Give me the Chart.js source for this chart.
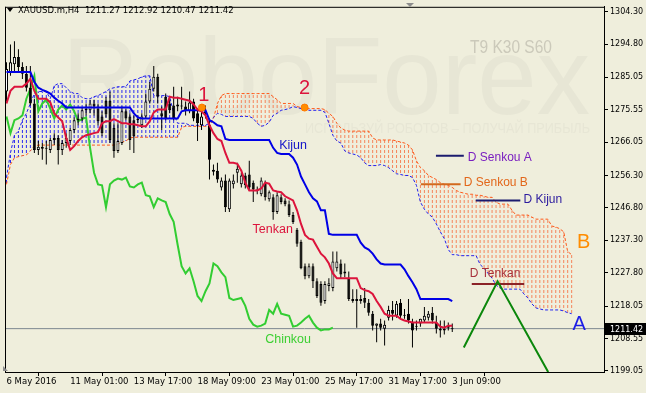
<!DOCTYPE html>
<html>
<head>
<meta charset="utf-8">
<script src="https://cdn.jsdelivr.net/npm/chart.js@4.4.1/dist/chart.umd.min.js"></script>
<style>
  html, body { margin: 0; padding: 0; background: #efeedc; }
</style>
</head>
<body>
<canvas id="chart" width="646" height="393"></canvas>
<script>
// ---- data (XAUUSD.m, H4) ----
const symbol = 'XAUUSD.m,H4'

const candleOpen = [
  1280.9, 1286.6, 1288.9, 1291.0, 1288.1, 1286.1, 1282.0, 1277.4, 1263.8, 1264.7,
  1264.1, 1263.8, 1266.7, 1267.3, 1263.8, 1265.8, 1266.4, 1269.6, 1272.5, 1273.0,
  1275.4, 1275.4, 1277.4, 1275.9, 1273.6, 1278.2, 1278.2, 1270.2, 1263.5, 1265.8,
  1275.1, 1273.6, 1272.5, 1272.5, 1271.0, 1273.6, 1278.0, 1281.7, 1285.2, 1274.5,
  1279.4, 1277.4, 1276.8, 1277.1, 1276.8, 1276.5, 1275.1, 1278.0, 1274.5, 1271.0,
  1275.1, 1271.0, 1258.0, 1257.7, 1252.8, 1254.8, 1246.4, 1253.7, 1257.1, 1253.7,
  1256.3, 1256.6, 1254.2, 1252.2, 1250.8, 1254.2, 1249.3, 1249.9, 1245.6, 1249.9,
  1249.0, 1247.9, 1244.7, 1240.4, 1236.9, 1229.7, 1226.8, 1229.7, 1225.3, 1224.5,
  1219.5, 1223.9, 1223.3, 1229.1, 1230.5, 1228.2, 1226.2, 1220.1, 1219.5, 1219.5,
  1220.4, 1219.0, 1215.8, 1212.3, 1212.9, 1211.4, 1214.6, 1216.9, 1215.2, 1219.0,
  1215.5, 1215.8, 1213.2, 1212.3, 1212.9, 1213.8, 1214.6, 1216.1, 1213.2, 1211.4,
  1211.4, 1211.7, 1211.27
]
const candleHigh = [
  1289.5, 1294.7, 1295.6, 1293.3, 1289.5, 1288.4, 1288.4, 1278.8, 1266.4, 1265.8,
  1266.4, 1267.3, 1268.7, 1268.1, 1266.7, 1268.7, 1270.2, 1273.3, 1274.5, 1276.2,
  1277.4, 1278.5, 1278.5, 1277.4, 1275.1, 1279.4, 1280.9, 1271.6, 1271.6, 1276.5,
  1275.9, 1274.5, 1273.9, 1273.9, 1274.5, 1280.3, 1283.7, 1288.4, 1286.1, 1276.5,
  1280.3, 1278.8, 1282.3, 1279.4, 1282.3, 1278.0, 1280.9, 1278.8, 1275.9, 1275.1,
  1276.8, 1273.0, 1259.5, 1260.0, 1255.7, 1256.6, 1255.4, 1256.6, 1260.0, 1257.1,
  1257.1, 1260.6, 1254.8, 1253.1, 1255.7, 1254.8, 1251.9, 1250.8, 1251.4, 1250.8,
  1249.6, 1249.0, 1245.6, 1240.9, 1237.5, 1230.5, 1230.5, 1230.5, 1226.2, 1225.3,
  1225.3, 1226.2, 1234.0, 1234.0, 1231.7, 1230.5, 1228.2, 1223.0, 1223.0, 1221.3,
  1223.3, 1220.1, 1216.6, 1212.9, 1214.3, 1213.8, 1218.1, 1219.5, 1219.5, 1220.1,
  1217.2, 1220.1, 1214.3, 1213.8, 1214.3, 1217.8, 1216.6, 1217.8, 1215.2, 1213.8,
  1213.8, 1213.2, 1212.92
]
const candleLow = [
  1278.0, 1285.5, 1286.9, 1286.6, 1284.6, 1280.9, 1276.8, 1262.9, 1262.3, 1260.9,
  1259.5, 1262.9, 1265.2, 1259.5, 1262.3, 1264.4, 1265.2, 1268.7, 1271.0, 1272.2,
  1273.9, 1274.5, 1273.9, 1271.0, 1267.8, 1273.3, 1265.8, 1261.5, 1262.9, 1265.2,
  1272.5, 1263.8, 1262.9, 1271.6, 1270.2, 1273.0, 1277.4, 1280.9, 1277.4, 1269.6,
  1272.5, 1274.5, 1272.5, 1275.1, 1275.6, 1273.9, 1274.5, 1272.2, 1266.4, 1269.6,
  1273.0, 1255.1, 1256.3, 1254.2, 1251.9, 1245.6, 1245.6, 1252.5, 1254.2, 1252.8,
  1252.5, 1251.9, 1248.5, 1250.8, 1250.2, 1249.0, 1248.7, 1243.3, 1245.0, 1247.9,
  1247.3, 1244.1, 1242.1, 1235.4, 1228.8, 1225.9, 1226.2, 1223.3, 1220.4, 1218.1,
  1218.7, 1222.4, 1222.4, 1228.2, 1226.2, 1226.5, 1219.5, 1219.0, 1211.7, 1218.7,
  1217.5, 1215.2, 1210.9, 1207.4, 1210.9, 1206.5, 1213.8, 1213.8, 1214.6, 1214.3,
  1214.3, 1212.9, 1205.9, 1210.9, 1212.0, 1213.2, 1213.8, 1212.9, 1210.0, 1208.8,
  1209.7, 1210.9, 1210.47
]
const candleClose = [
  1287.5, 1289.5, 1291.0, 1288.1, 1286.1, 1282.0, 1277.4, 1263.8, 1264.7, 1264.1,
  1264.4, 1266.7, 1267.3, 1263.8, 1265.8, 1267.3, 1269.6, 1272.5, 1273.0, 1275.4,
  1275.9, 1277.4, 1276.5, 1272.2, 1268.7, 1274.2, 1266.7, 1263.5, 1266.4, 1275.1,
  1273.0, 1266.7, 1267.8, 1273.0, 1273.6, 1278.0, 1281.7, 1285.2, 1279.4, 1273.6,
  1273.0, 1275.4, 1273.0, 1276.5, 1276.5, 1275.1, 1277.7, 1273.0, 1271.6, 1273.6,
  1274.5, 1260.9, 1257.4, 1255.1, 1254.8, 1247.0, 1254.8, 1254.8, 1258.3, 1256.3,
  1253.4, 1252.8, 1252.2, 1251.9, 1254.8, 1249.9, 1251.4, 1245.6, 1250.5, 1248.5,
  1247.9, 1244.7, 1242.7, 1236.3, 1229.1, 1226.8, 1229.7, 1225.3, 1221.0, 1219.0,
  1224.5, 1224.7, 1231.1, 1231.1, 1227.3, 1227.6, 1220.1, 1219.5, 1220.1, 1220.1,
  1219.0, 1216.1, 1212.3, 1212.9, 1211.7, 1212.6, 1216.9, 1215.8, 1218.7, 1215.2,
  1215.2, 1213.8, 1210.9, 1212.0, 1214.3, 1215.2, 1215.8, 1213.8, 1211.4, 1210.9,
  1210.9, 1212.3, 1211.42
]

// Ichimoku (9 / 30 / 60)
const tenkan = [
  1277.4, 1281.1, 1282.3, 1282.3, 1282.3, 1283.2, 1284.6, 1281.1, 1278.8, 1278.8,
  1278.8, 1277.7, 1274.5, 1273.3, 1272.2, 1267.3, 1263.8, 1264.9, 1266.4, 1267.5,
  1268.1, 1268.4, 1268.7, 1269.0, 1271.6, 1272.2, 1272.2, 1272.8, 1272.2, 1271.6,
  1271.6, 1271.3, 1271.3, 1271.0, 1270.7, 1270.7, 1272.2, 1274.8, 1275.6, 1275.6,
  1275.6, 1279.4, 1279.1, 1279.1, 1278.8, 1278.5, 1278.2, 1277.1, 1275.6, 1275.1,
  1273.9, 1271.0, 1268.7, 1267.0, 1266.4, 1262.9, 1260.0, 1260.0, 1259.7, 1257.7,
  1254.2, 1251.9, 1251.9, 1251.9, 1252.5, 1254.2, 1253.9, 1251.9, 1251.6, 1251.4,
  1250.2, 1249.6, 1249.0, 1246.1, 1242.1, 1238.9, 1237.8, 1237.5, 1235.4, 1233.4,
  1232.3, 1230.5, 1227.6, 1226.2, 1226.2, 1226.2, 1226.2, 1226.2, 1226.2, 1223.3,
  1222.7, 1222.4, 1221.6, 1219.5, 1217.8, 1215.8, 1215.2, 1215.2, 1215.2, 1214.3,
  1213.8, 1213.5, 1213.2, 1213.2, 1213.2, 1213.2, 1213.2, 1213.2, 1213.2, 1212.0,
  1211.7, 1212.3, 1212.3
]
const kijun = [
  1286.6, 1286.6, 1286.6, 1286.6, 1286.6, 1286.6, 1286.6, 1283.7, 1282.0, 1281.4,
  1280.9, 1280.3, 1279.1, 1278.2, 1277.4, 1276.2, 1276.2, 1276.2, 1276.2, 1276.2,
  1276.2, 1276.2, 1276.2, 1276.2, 1276.2, 1276.2, 1276.2, 1276.2, 1276.2, 1276.2,
  1276.2, 1276.2, 1274.5, 1273.3, 1273.0, 1273.0, 1273.0, 1273.0, 1273.0, 1273.0,
  1273.0, 1273.0, 1273.0, 1273.0, 1275.1, 1275.4, 1275.4, 1275.4, 1275.4, 1275.4,
  1275.4, 1272.5, 1271.9, 1271.0, 1270.7, 1267.0, 1266.7, 1266.7, 1266.7, 1266.7,
  1266.7, 1266.7, 1266.7, 1266.7, 1266.7, 1266.7, 1266.7, 1264.4, 1262.9, 1262.6,
  1262.6, 1262.6, 1261.5, 1259.5, 1256.0, 1253.7, 1251.4, 1249.6, 1248.7, 1246.1,
  1246.1, 1239.2, 1238.9, 1238.9, 1238.9, 1238.9, 1238.9, 1238.9, 1238.9, 1236.6,
  1235.2, 1234.6, 1233.4, 1231.7, 1230.5, 1230.2, 1230.2, 1230.2, 1230.2, 1230.2,
  1228.8, 1226.8, 1225.0, 1223.0, 1220.1, 1220.1, 1220.1, 1220.1, 1220.1, 1220.1,
  1220.1, 1220.1, 1219.5
]
const chinkou = [
  1273.6, 1268.7, 1272.5, 1273.0, 1273.9, 1278.8, 1281.7, 1285.5, 1275.1, 1277.4,
  1278.5, 1275.9, 1273.0, 1275.6, 1276.8, 1275.6, 1277.1, 1275.1, 1272.2, 1272.8,
  1273.3, 1264.4, 1257.1, 1253.7, 1253.4, 1247.0, 1253.7, 1254.8, 1255.4, 1255.1,
  1255.7, 1253.1, 1252.8, 1253.7, 1254.2, 1250.5, 1250.2, 1247.0, 1249.6, 1249.0,
  1248.5, 1245.0, 1242.7, 1236.0, 1229.7, 1227.6, 1229.1, 1225.3, 1221.0, 1219.5,
  1222.4, 1224.7, 1230.5, 1229.7, 1227.9, 1226.5, 1220.4, 1219.8, 1220.1, 1220.4,
  1218.1, 1214.3, 1212.6, 1212.0, 1212.3, 1212.9, 1216.9, 1215.8, 1218.7, 1215.8,
  1215.5, 1215.2, 1212.0, 1212.3, 1213.2, 1214.3, 1215.2, 1213.2, 1211.7, 1210.9,
  1211.2, 1211.2, 1211.7
]
const senkouA = [
  1255.7, 1262.9, 1268.1, 1269.3, 1272.5, 1274.5, 1277.4, 1280.3, 1280.9, 1280.9,
  1280.9, 1278.8, 1282.6, 1283.2, 1283.2, 1282.0, 1280.9, 1280.3, 1280.3, 1279.1,
  1278.8, 1278.8, 1279.4, 1279.7, 1280.3, 1280.9, 1281.7, 1282.0, 1282.3, 1282.3,
  1282.3, 1284.0, 1284.3, 1284.6, 1285.2, 1285.5, 1285.5, 1279.7, 1279.7, 1279.7,
  1279.7, 1279.4, 1274.5, 1271.6, 1271.6, 1271.6, 1271.0, 1271.0, 1271.0, 1271.0,
  1271.0, 1271.6, 1273.3, 1274.5, 1274.2, 1273.6, 1273.6, 1273.6, 1273.6, 1273.6,
  1273.6, 1273.6, 1273.0, 1271.6, 1270.7, 1271.0, 1271.9, 1273.9, 1274.5, 1275.4,
  1275.6, 1275.9, 1276.5, 1276.2, 1275.9, 1275.9, 1275.4, 1275.4, 1275.4, 1275.4,
  1274.8, 1271.6, 1268.1, 1266.4, 1265.8, 1263.5, 1262.9, 1262.6, 1262.3, 1261.5,
  1260.0, 1259.2, 1259.2, 1259.2, 1259.5, 1259.2, 1258.6, 1257.7, 1256.8, 1256.6,
  1256.3, 1256.3, 1255.7, 1253.4, 1248.5, 1246.4, 1245.0, 1244.1, 1242.1, 1239.8,
  1237.8, 1234.6, 1233.1, 1233.1, 1232.8, 1232.8, 1232.8, 1232.8, 1232.8, 1230.2,
  1229.1, 1227.6, 1226.2, 1224.2, 1223.3, 1223.0, 1223.0, 1223.0, 1223.0, 1223.0,
  1221.6, 1220.4, 1218.7, 1217.5, 1217.2, 1216.9, 1216.9, 1216.9, 1216.9, 1216.9,
  1216.6, 1216.1, 1215.8
]
const senkouB = [
  1253.7, 1259.5, 1261.5, 1261.8, 1262.1, 1262.3, 1263.5, 1264.9, 1265.2, 1265.2,
  1265.2, 1265.2, 1265.2, 1265.2, 1265.2, 1265.2, 1265.2, 1265.2, 1265.2, 1265.2,
  1265.2, 1265.2, 1265.2, 1265.2, 1265.2, 1265.2, 1265.2, 1265.2, 1265.5, 1266.1,
  1266.4, 1267.3, 1267.5, 1267.5, 1267.5, 1267.5, 1267.5, 1267.5, 1267.5, 1267.5,
  1267.5, 1267.5, 1267.5, 1267.5, 1270.4, 1270.7, 1270.7, 1270.7, 1270.7, 1270.7,
  1270.7, 1270.7, 1273.0, 1277.4, 1279.7, 1280.3, 1280.3, 1280.3, 1280.3, 1280.3,
  1280.3, 1280.3, 1280.3, 1280.3, 1280.3, 1280.3, 1280.3, 1279.4, 1278.5, 1277.4,
  1277.4, 1277.4, 1277.4, 1276.5, 1276.2, 1275.9, 1275.9, 1275.9, 1275.9, 1275.9,
  1275.6, 1274.5, 1273.6, 1271.6, 1270.2, 1269.6, 1269.3, 1269.3, 1269.3, 1269.3,
  1269.3, 1269.3, 1267.3, 1266.7, 1266.7, 1266.7, 1266.7, 1266.7, 1266.4, 1266.1,
  1265.8, 1265.2, 1263.8, 1260.6, 1258.6, 1257.7, 1256.3, 1255.7, 1255.1, 1254.2,
  1253.7, 1253.4, 1252.8, 1251.9, 1251.4, 1251.1, 1250.8, 1250.8, 1250.5, 1250.5,
  1250.2, 1249.9, 1249.9, 1248.5, 1247.9, 1247.9, 1247.9, 1246.1, 1244.7, 1244.7,
  1244.7, 1244.7, 1244.1, 1243.5, 1243.5, 1243.5, 1243.5, 1241.5, 1241.2, 1240.7,
  1239.8, 1234.0, 1233.1
]

// daily levels drawn as short segments (bar from, bar to, price)
const dLevelNames = ['D Senkou A', 'D Senkou B', 'D Kijun', 'D Tenkan']
const dLevelFrom = [107.9, 104.1, 117.9, 116.9]
const dLevelTo = [114.9, 114.1, 129.1, 130.1]
const dLevelPrice = [1262.1, 1253.7, 1249.0, 1224.5]

// forecast zigzag
const forecastBar = [114.9, 123.4, 136.1]
const forecastPrice = [1205.9, 1225.3, 1198.7]

// marked signal points "1" and "2"
const signalBar = [49.1, 74.9]
const signalPrice = [1276.2, 1276.2]

// axes
const priceTicks = [1304.30, 1294.80, 1285.05, 1275.55, 1266.05, 1256.30, 1246.80, 1237.30, 1227.80, 1218.05, 1208.55, 1199.05]
const timeTickBars = [0, 16, 32, 48, 64, 80, 96, 112]
const timeTickLabels = ['6 May 2016', '11 May 01:00', '13 May 17:00', '18 May 09:00', '23 May 01:00', '25 May 17:00', '31 May 17:00', '3 Jun 09:00']

// ---- build ----
const canvas = document.getElementById('chart')
const ctx0 = canvas.getContext('2d')
const last = candleClose.length - 1
const lastClose = candleClose[last]

// dotted vertical hatch used by the cloud (3px on, 2px off)
function hatch(color) {
  const c = document.createElement('canvas')
  c.width = 1
  c.height = 5
  const g = c.getContext('2d')
  g.fillStyle = color
  g.fillRect(0, 0, 1, 3)
  return ctx0.createPattern(c, 'repeat')
}
const blueHatch = hatch('#2a2af0')
const orangeHatch = hatch('#f5845a')

const pts = (arr) => arr.map((v, i) => ({ x: i, y: v }))

const cloudData = senkouA.map((a, i) => ({ x: i, y: [a, senkouB[i]] }))
const cloudColors = senkouA.map((a, i) => (a >= senkouB[i] ? blueHatch : orangeHatch))
const wickData = candleHigh.map((h, i) => ({ x: i, y: [candleLow[i], h] }))
const bodyData = candleOpen.map((o, i) => ({ x: i, y: [o, candleClose[i]] }))
const bodyColors = candleOpen.map((o, i) => (candleClose[i] >= o ? '#ffffff' : '#000000'))

const levelColors = ['#1b1b6e', '#d2691e', '#1b1b6e', '#8b2328']
const levelSets = dLevelNames.map((name, k) => ({
  type: 'line',
  label: name,
  data: [{ x: dLevelFrom[k], y: dLevelPrice[k] }, { x: dLevelTo[k], y: dLevelPrice[k] }],
  borderColor: levelColors[k],
  borderWidth: 2,
  pointRadius: 0,
  order: 2,
}))

const line = (label, data, color, width, order, dash) => ({
  type: 'line',
  label,
  data,
  borderColor: color,
  borderWidth: width,
  borderDash: dash || [],
  pointRadius: 0,
  tension: 0,
  fill: false,
  order,
})

const X_MIN = -0.375
const X_MAX = 150.125
const Y_MIN = 1198.72
const Y_MAX = 1305.72

const labelsPlugin = {
  id: 'mt4decor',
  beforeDraw(chart) {
    const { ctx, width, height } = chart
    ctx.save()
    ctx.fillStyle = '#efeedc'
    ctx.fillRect(0, 0, width, height)
    // watermark
    ctx.fillStyle = '#e7e6d5'
    ctx.textBaseline = 'alphabetic'
    ctx.textAlign = 'left'
    ctx.font = '110px "Liberation Sans"'
    ctx.fillText('RoboForex', 62, 114, 528)
    ctx.font = '15px "Liberation Sans"'
    ctx.fillText('ИСПОЛЬЗУЙ РОБОТОВ – ПОЛУЧАЙ ПРИБЫЛЬ', 305, 133, 285)
    ctx.fillStyle = '#cbc9ba'
    ctx.font = '18px "Liberation Sans"'
    ctx.fillText('T9 K30 S60', 470, 53, 82)
    ctx.restore()
  },
  afterDraw(chart) {
    const { ctx, chartArea: ca, scales } = chart
    const xs = scales.x
    const ys = scales.y
    ctx.save()
    // frame (left, top)
    ctx.fillStyle = '#000'
    ctx.fillRect(ca.left, ca.top, 1, ca.bottom - ca.top)
    ctx.fillRect(ca.left, ca.top, ca.right - ca.left, 1)

    // header
    ctx.beginPath()
    ctx.moveTo(7, 8)
    ctx.lineTo(13, 8)
    ctx.lineTo(10, 12)
    ctx.closePath()
    ctx.fill()
    ctx.font = '8.5px "DejaVu Sans"'
    ctx.textBaseline = 'middle'
    ctx.textAlign = 'left'
    const hdr = [candleOpen[last], candleHigh[last], candleLow[last], candleClose[last]].map((v) => v.toFixed(2)).join(' ')
    ctx.fillText(symbol + '  ' + hdr, 18, 10.5)

    // shift markers
    ctx.fillStyle = '#8c8c8c'
    ctx.beginPath()
    ctx.moveTo(406, 3)
    ctx.lineTo(414, 3)
    ctx.lineTo(410, 7)
    ctx.closePath()
    ctx.fill()
    ctx.beginPath()
    ctx.moveTo(3, 366)
    ctx.lineTo(3, 371)
    ctx.lineTo(8, 371)
    ctx.closePath()
    ctx.fill()

    // text objects
    const notes = [
      ['1', 49.6, 1279.7, '#dc143c', 20, 'center'],
      ['2', 74.9, 1281.7, '#dc143c', 20, 'center'],
      ['Kijun', 72.0, 1265.2, '#1414c8', 12.5, 'center'],
      ['Tenkan', 66.9, 1240.4, '#dc143c', 12.5, 'center'],
      ['Chinkou', 70.75, 1208.3, '#3ccf32', 12.5, 'center'],
      [dLevelNames[0], 115.9, 1261.5, '#7a1fc0', 12, 'left'],
      [dLevelNames[1], 114.9, 1254.2, '#e2671b', 12, 'left'],
      [dLevelNames[2], 129.9, 1249.3, '#2b1a9e', 12, 'left'],
      [dLevelNames[3], 116.4, 1227.6, '#a8323c', 12, 'left'],
      ['B', 145.0, 1236.6, '#ff8c00', 20, 'center'],
      ['A', 143.9, 1212.6, '#1c1ce6', 20, 'center'],
    ]
    ctx.textBaseline = 'middle'
    for (const [t, bx, p, color, size, align] of notes) {
      ctx.fillStyle = color
      ctx.font = size + 'px "Liberation Sans"'
      ctx.textAlign = align
      ctx.fillText(t, xs.getPixelForValue(bx), ys.getPixelForValue(p))
    }

    // current price box
    const py = Math.round(ys.getPixelForValue(lastClose))
    ctx.fillStyle = '#000'
    ctx.fillRect(ca.right + 1, py - 6, 42, 12)
    ctx.fillStyle = '#fff'
    ctx.font = '8px "DejaVu Sans"'
    ctx.textAlign = 'left'
    ctx.fillText(lastClose.toFixed(2), ca.right + 6, py + 0.5)
    ctx.restore()
  },
}

new Chart(canvas, {
  type: 'line',
  data: {
    datasets: [
      {
        type: 'bar',
        label: 'cloud',
        data: cloudData,
        backgroundColor: cloudColors,
        barThickness: 1,
        grouped: false,
        inflateAmount: 0,
        borderWidth: 0,
        order: 20,
      },
      line('Senkou A', pts(senkouA), '#1f1ff0', 1, 19, [3, 2]),
      line('Senkou B', pts(senkouB), '#ff5a1a', 1, 19, [3, 2]),
      line('price', [{ x: X_MIN, y: lastClose }, { x: X_MAX, y: lastClose }], '#7d8790', 1, 18),
      line('Chinkou', pts(chinkou), '#32cd32', 2, 17),
      {
        type: 'bar',
        label: 'wick',
        data: wickData,
        backgroundColor: '#000',
        barThickness: 1,
        grouped: false,
        inflateAmount: 0,
        borderWidth: 0,
        order: 16,
      },
      {
        type: 'bar',
        label: 'body',
        data: bodyData,
        backgroundColor: bodyColors,
        borderColor: '#000',
        borderWidth: 1,
        borderSkipped: false,
        barThickness: 3,
        minBarLength: 1,
        grouped: false,
        inflateAmount: 0,
        order: 15,
      },
      line('Kijun', pts(kijun), '#0000e6', 2, 14),
      line('Tenkan', pts(tenkan), '#dc143c', 2, 13),
      ...levelSets,
      line('forecast', forecastBar.map((b, i) => ({ x: b, y: forecastPrice[i] })), '#0b870b', 2, 1),
      {
        type: 'scatter',
        label: 'signals',
        data: signalBar.map((b, i) => ({ x: b, y: signalPrice[i] })),
        pointRadius: 3.5,
        pointBackgroundColor: '#ff8c00',
        pointBorderColor: '#ff7a00',
        pointBorderWidth: 1,
        showLine: false,
        order: 0,
      },
    ],
  },
  options: {
    responsive: false,
    animation: false,
    devicePixelRatio: 1,
    events: [],
    layout: { padding: { left: 2, top: 2, right: 0, bottom: 0 } },
    plugins: {
      legend: { display: false },
      tooltip: { enabled: false },
      title: { display: false },
    },
    scales: {
      x: {
        type: 'linear',
        min: X_MIN,
        max: X_MAX,
        offset: false,
        afterBuildTicks: (s) => {
          s.ticks = timeTickBars.map((v) => ({ value: v }))
        },
        afterFit: (s) => {
          s.height = 21
        },
        ticks: {
          autoSkip: false,
          maxRotation: 0,
          align: 'start',
          padding: 1,
          color: '#000',
          font: { family: 'DejaVu Sans', size: 8.5 },
          callback: (v, i) => timeTickLabels[i],
        },
        grid: { drawOnChartArea: false, tickLength: 4, color: '#000' },
        border: { color: '#000' },
      },
      y: {
        type: 'linear',
        position: 'right',
        min: Y_MIN,
        max: Y_MAX,
        afterBuildTicks: (s) => {
          s.ticks = priceTicks.map((v) => ({ value: v }))
        },
        afterFit: (s) => {
          s.width = 42
        },
        ticks: {
          autoSkip: false,
          padding: 2,
          color: '#000',
          font: { family: 'DejaVu Sans', size: 8 },
          callback: (v) => Number(v).toFixed(2),
        },
        grid: { drawOnChartArea: false, tickLength: 4, color: '#000' },
        border: { color: '#000' },
      },
    },
  },
  plugins: [labelsPlugin],
})
</script>
</body>
</html>
